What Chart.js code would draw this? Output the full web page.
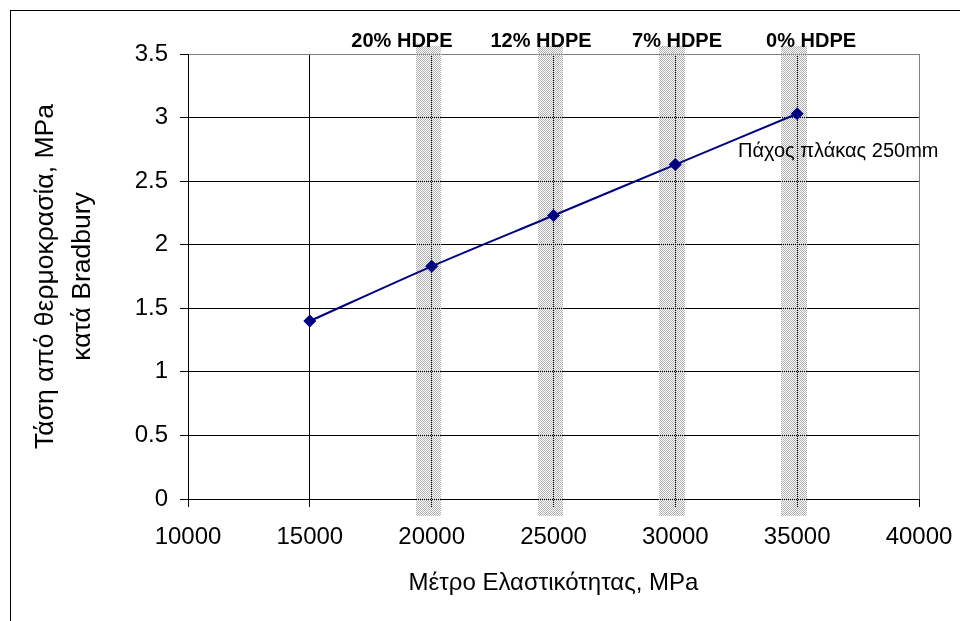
<!DOCTYPE html>
<html>
<head>
<meta charset="utf-8">
<script src="https://cdn.jsdelivr.net/npm/chart.js@4.4.1/dist/chart.umd.min.js"></script>
<style>
  html, body { margin: 0; padding: 0; background: #ffffff; }
  #wrap { width: 960px; height: 621px; position: relative; }
</style>
</head>
<body>
<div id="wrap"><canvas id="c" width="960" height="621"></canvas></div>
<script>
// ---- data ----
const modulusValues = [15000, 20000, 25000, 30000, 35000];
const stressValues = [1.40, 1.83, 2.23, 2.63, 3.03];
const xTickValues = [10000, 15000, 20000, 25000, 30000, 35000, 40000];
const yTickValues = [0, 0.5, 1, 1.5, 2, 2.5, 3, 3.5];
const bandCenters = [20000, 25000, 30000, 35000];
const bandLabels = ['20% HDPE', '12% HDPE', '7% HDPE', '0% HDPE'];
const bandLabelX = [18780, 24490, 30070, 35570];
const xTitle = 'Μέτρο Ελαστικότητας, MPa';
const yTitle = ['Τάση από θερμοκρασία, MPa', 'κατά Bradbury'];
const noteText = 'Πάχος πλάκας 250mm';
const noteAt = [32570, 2.69];

const FONT = "'Liberation Sans', Arial, sans-serif";

// checker pattern for bands
function makePattern(ctx) {
  const p = document.createElement('canvas');
  p.width = 2; p.height = 2;
  const pc = p.getContext('2d');
  pc.fillStyle = '#b0b0b0';
  pc.fillRect(0, 0, 1, 1);
  pc.fillRect(1, 1, 1, 1);
  return ctx.createPattern(p, 'repeat');
}

const bandPlugin = {
  id: 'bands',
  beforeDatasetsDraw(chart) {
    const { ctx, scales: { x, y } } = chart;
    ctx.save();
    ctx.fillStyle = makePattern(ctx);
    bandCenters.forEach(c => {
      const l = Math.round(x.getPixelForValue(c - 650));
      const r = Math.round(x.getPixelForValue(c + 400));
      const t = Math.round(y.getPixelForValue(3.559));
      const b = Math.round(y.getPixelForValue(-0.13));
      ctx.fillRect(l, t, r - l, b - t);
    });
    ctx.restore();
  },
  afterDraw(chart) {
    const { ctx, scales: { x, y }, chartArea } = chart;
    ctx.save();
    ctx.fillStyle = '#000';
    ctx.font = 'bold 20px ' + FONT;
    ctx.textAlign = 'center';
    ctx.textBaseline = 'alphabetic';
    bandLabels.forEach((t, i) => {
      ctx.fillText(t, x.getPixelForValue(bandLabelX[i]), chartArea.top - 7);
    });
    ctx.font = '20px ' + FONT;
    ctx.textAlign = 'left';
    ctx.fillText(noteText, x.getPixelForValue(noteAt[0]), y.getPixelForValue(noteAt[1]));
    ctx.strokeStyle = '#000';
    ctx.lineWidth = 1;
    ctx.strokeRect(10.5, 10.5, 1000, 1000);
    ctx.restore();
  }
};

new Chart(document.getElementById('c'), {
  type: 'line',
  data: {
    datasets: [{
      data: modulusValues.map((v, i) => ({ x: v, y: stressValues[i] })),
      borderColor: '#000080',
      backgroundColor: '#000080',
      borderWidth: 2,
      tension: 0.3,
      pointStyle: 'rectRot',
      pointRadius: 6.5,
      pointHoverRadius: 6.5,
      pointBorderWidth: 0,
      fill: false
    }]
  },
  options: {
    responsive: false,
    animation: false,
    events: [],
    layout: { padding: { top: 54, right: 41, left: 0, bottom: 0 } },
    plugins: { legend: { display: false }, tooltip: { enabled: false } },
    scales: {
      x: {
        type: 'linear',
        min: 10000, max: 40000,
        afterBuildTicks: s => { s.ticks = xTickValues.map(v => ({ value: v })); },
        afterFit: s => { s.height = 122; s.paddingLeft = 0; s.paddingRight = 0; },
        grid: {
          color: c => (c.tick && c.tick.value === 40000) ? '#808080' : '#000000',
          lineWidth: 1,
          tickLength: 8,
          tickColor: '#000000',
          drawTicks: true
        },
        border: { color: '#000000', width: 1 },
        ticks: {
          color: '#000',
          font: { family: FONT, size: 24 },
          padding: 16,
          maxRotation: 0,
          autoSkip: false,
          callback: v => String(v)
        },
        title: {
          display: true,
          text: xTitle,
          color: '#000',
          font: { family: FONT, size: 24 },
          padding: { top: 0, bottom: 23 }
        }
      },
      y: {
        type: 'linear',
        min: 0, max: 3.5,
        afterBuildTicks: s => { s.ticks = yTickValues.map(v => ({ value: v })); },
        afterFit: s => { s.width = 188; s.paddingTop = 0; s.paddingBottom = 0; },
        grid: {
          color: c => (c.tick && c.tick.value === 3.5) ? '#808080' : '#000000',
          lineWidth: 1,
          tickLength: 8,
          tickColor: '#000000',
          drawTicks: true
        },
        border: { color: '#000000', width: 1 },
        ticks: {
          color: '#000',
          font: { family: FONT, size: 24 },
          padding: 12,
          autoSkip: false,
          callback: v => String(v)
        },
        title: {
          display: true,
          text: yTitle,
          color: '#000',
          font: { family: FONT, size: 26.5, lineHeight: 1.4 },
          padding: { top: 27, bottom: 0 }
        }
      }
    }
  },
  plugins: [bandPlugin]
});
</script>
</body>
</html>
